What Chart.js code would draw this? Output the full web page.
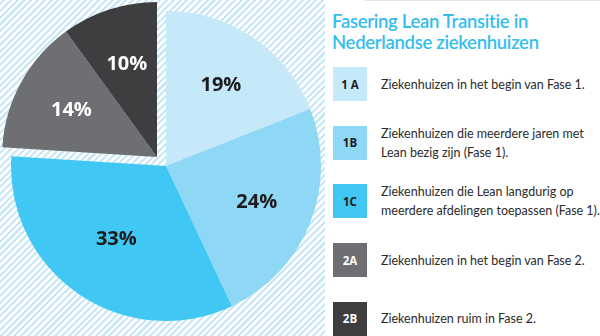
<!DOCTYPE html>
<html>
<head>
<meta charset="utf-8">
<script src="https://cdn.jsdelivr.net/npm/chart.js@4"></script>
<style>
  html, body { margin: 0; padding: 0; background: #fff; }
  #wrap { position: relative; width: 600px; height: 336px; overflow: hidden; font-family: Lato, "Open Sans", sans-serif; }
  #stripes {
    position: absolute; left: 0; top: 0; width: 325px; height: 336px;
    background: repeating-linear-gradient(-45deg, #ffffff 0px, #ffffff 2.6px, #c8e8f8 2.6px, #c8e8f8 4.8px);
  }
  #chartBox { position: absolute; left: 0; top: 0; width: 600px; height: 336px; }
  #panel { position: absolute; left: 327px; top: 0; width: 273px; height: 336px; background: #fff; }
  #panel .topline { position: absolute; left: 38px; right: 0; top: 0; height: 1px; background: #e4e4e4; }
  #title { position: absolute; left: 5px; top: 11px; color: #35bdee; font-size: 18.5px; font-weight: 600; line-height: 21px; letter-spacing: -0.3px; }
  .item { position: absolute; left: 6px; width: 267px; }
  .sq { position: absolute; left: 0; top: 0; width: 34px; height: 34px; font-weight: bold; font-size: 11.5px;
        display: flex; align-items: center; justify-content: center; font-family: "Open Sans", sans-serif; }
  .desc { position: absolute; left: 48px; color: #2b2b2b; font-size: 12.5px; line-height: 19px; white-space: nowrap; }
</style>
</head>
<body>
<div id="wrap">
  <div id="stripes"></div>
  <div id="panel">
    <div class="topline"></div>
    <div id="title">Fasering Lean Transitie in<br>Nederlandse ziekenhuizen</div>
  </div>
  <div id="chartBox"><canvas id="pie"></canvas></div>
</div>
<script>
// data
const codes = ['1 A', '1B', '1C', '2A', '2B'];
const beschrijvingen = [
  ['Ziekenhuizen in het begin van Fase 1.'],
  ['Ziekenhuizen die meerdere jaren met', 'Lean bezig zijn (Fase 1).'],
  ['Ziekenhuizen die Lean langdurig op', 'meerdere afdelingen toepassen (Fase 1).'],
  ['Ziekenhuizen in het begin van Fase 2.'],
  ['Ziekenhuizen ruim in Fase 2.']
];
const percentages = [19, 24, 33, 14, 10];
const kleuren = ['#c6e9fa', '#8ed7f5', '#40c7f3', '#6e6f72', '#3e3e40'];
const tekstKleuren = ['#1c1c1c', '#1c1c1c', '#1c1c1c', '#ffffff', '#ffffff'];
const uitgetrokken = [false, false, false, true, true];

// legend panel
const panel = document.getElementById('panel');
codes.forEach((c, i) => {
  const item = document.createElement('div');
  item.className = 'item';
  const top = 67 + i * 58.7;
  item.style.top = top + 'px';
  const sq = document.createElement('div');
  sq.className = 'sq';
  sq.style.background = kleuren[i];
  sq.style.color = i < 3 ? '#1c1c1c' : '#ffffff';
  sq.textContent = c;
  const desc = document.createElement('div');
  desc.className = 'desc';
  const lines = beschrijvingen[i];
  desc.style.top = (17 - lines.length * 19 / 2) + 'px';
  desc.innerHTML = lines.join('<br>');
  item.appendChild(sq);
  item.appendChild(desc);
  panel.appendChild(item);
});

// slices 2A and 2B pulled out together toward the top left
const explodePlugin = {
  id: 'explode',
  afterDatasetUpdate(chart, args) {
    const meta = chart.getDatasetMeta(args.index);
    meta.data.forEach((arc, i) => {
      if (uitgetrokken[i]) { arc.x -= 9; arc.y -= 9; }
    });
  }
};

const labelPlugin = {
  id: 'pctLabels',
  afterDatasetsDraw(chart) {
    const ctx = chart.ctx;
    const meta = chart.getDatasetMeta(0);
    ctx.save();
    ctx.font = 'bold 20px "Open Sans", sans-serif';
    ctx.textAlign = 'center';
    ctx.textBaseline = 'middle';
    meta.data.forEach((arc, i) => {
      const mid = (arc.startAngle + arc.endAngle) / 2;
      const r = arc.outerRadius * (i === 2 ? 0.57 : 0.63);
      ctx.fillStyle = tekstKleuren[i];
      ctx.fillText(percentages[i] + '%', arc.x + Math.cos(mid) * r, arc.y + Math.sin(mid) * r);
    });
    ctx.restore();
  }
};

new Chart(document.getElementById('pie').getContext('2d'), {
  type: 'pie',
  data: {
    labels: codes,
    datasets: [{
      data: percentages,
      backgroundColor: kleuren,
      borderWidth: 0
    }]
  },
  options: {
    responsive: true,
    maintainAspectRatio: false,
    animation: false,
    layout: { padding: { left: 11, top: 11, right: 279, bottom: 15 } },
    plugins: {
      legend: { display: false },
      tooltip: { enabled: false }
    }
  },
  plugins: [explodePlugin, labelPlugin]
});
</script>
</body>
</html>
